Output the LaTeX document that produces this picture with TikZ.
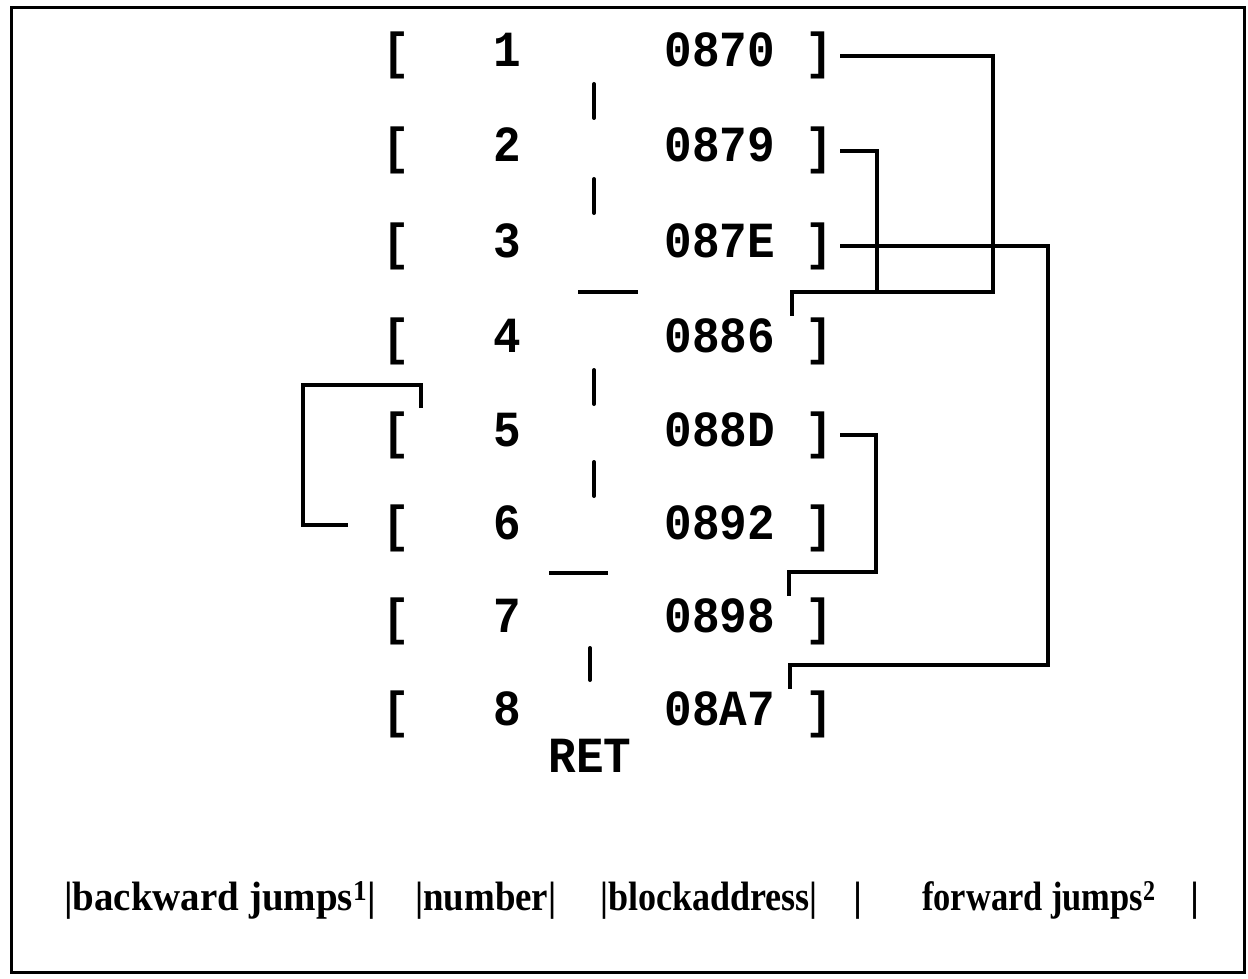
\documentclass[tikz,border=0pt]{standalone}
\usepackage{graphicx}
\usepackage{fontspec}
\setmainfont{Liberation Serif}
\newfontfamily\codefont{Liberation Mono}
\newcommand\tall[1]{\scalebox{1}[1.1]{#1}}
\newcommand\narrow[2]{\scalebox{#1}[1]{#2}}
\tikzset{
  code/.style={font=\codefont\bfseries\fontsize{46}{46}\selectfont, inner sep=0pt, anchor=base},
  caption/.style={font=\bfseries\fontsize{41}{41}\selectfont, inner sep=0pt},
  link/.style={line width=3.4pt, line join=miter},
  tick/.style={line width=4pt, line cap=round},
  frame/.style={line width=3pt}
}
\begin{document}
\begin{tikzpicture}[x=1pt, y=-1pt]
\useasboundingbox (0,0) rectangle (1248,979);
\draw[frame] (11,8) rectangle (1244,972);

% block table: bracket, number, block address, bracket
\foreach \i/\a/\yb in {1/0870/67, 2/0879/162, 3/087E/257, 4/0886/352,
                       5/088D/446, 6/0892/539, 7/0898/632, 8/08A7/725} {
  \node[code] (lb\i) at (396,\yb+2) {\tall{[}};
  \node[code] (n\i)  at (507,\yb) {\tall{\i}};
  \node[code] (a\i)  at (720,\yb) {\tall{\a}};
  \node[code] (rb\i) at (819,\yb+2) {\tall{]}};
}
\node[code] (ret) at (590,772) {\tall{RET}};

% separators in the middle column
\draw[tick] (594,84) -- (594,118);
\draw[tick] (594,179) -- (594,213);
\draw[link] (578,292) -- (638,292);
\draw[tick] (594,370) -- (594,404);
\draw[tick] (594,462) -- (594,496);
\draw[link] (549,573) -- (608,573);
\draw[tick] (590,648) -- (590,680);

% forward jumps
\coordinate (k1) at (993,292);
\coordinate (k2) at (877,292);
\coordinate (h4) at (792,316);
\coordinate (k3) at (1048,665);
\coordinate (h8) at (790,689);
\coordinate (k5) at (876,572);
\coordinate (h7) at (789,596);
\draw[link] ([xshift=7pt]rb1.east) -| (k1) -| (h4);
\draw[link] ([xshift=7pt]rb2.east) -| (k2);
\draw[link] ([xshift=7pt]rb3.east) -| (k3) -| (h8);
\draw[link] ([xshift=7pt]rb5.east) -| (k5) -| (h7);

% backward jump
\coordinate (b1) at (421,408);
\coordinate (b2) at (303,385);
\coordinate (b3) at (348,525);
\draw[link] (b1) |- (b2) |- (b3);

% column legend
\node[caption, anchor=base west] (lbw) at (64,910) {\narrow{0.95}{|backward jumps\textsuperscript{1}|}};
\node[caption, anchor=base west] (lnum) at (415,910) {\narrow{0.9}{|number|}};
\node[caption, anchor=base west] (ladr) at (600,910) {\narrow{0.88}{|blockaddress|}};
\node[caption, anchor=base] (lsep) at (858,910) {|};
\node[caption, anchor=base west] (lfwd) at (922,910) {\narrow{0.84}{forward jumps\textsuperscript{2}}};
\node[caption, anchor=base] (lend) at (1195,910) {|};
\end{tikzpicture}
\end{document}
